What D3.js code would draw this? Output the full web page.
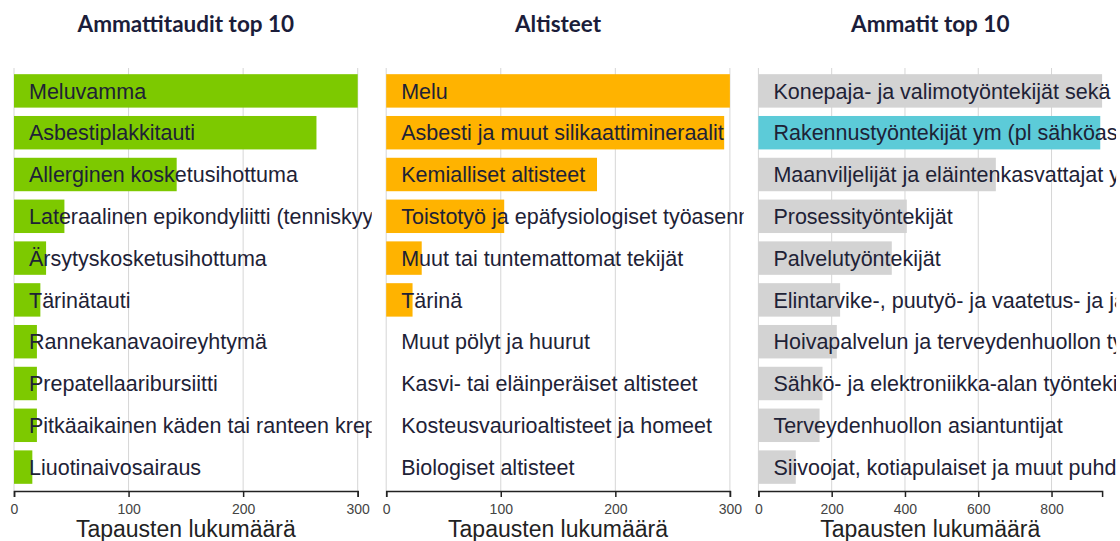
<!DOCTYPE html>
<html>
<head>
<meta charset="utf-8">
<script src="https://cdn.jsdelivr.net/npm/d3@7"></script>
<style>
  body { margin: 0; background: #fff; }
  svg { display: block; }
</style>
</head>
<body>
<svg width="1120" height="541"></svg>
<script>
// panel titles
var titles = ["Ammattitaudit top 10", "Altisteet", "Ammatit top 10"];

// Ammattitaudit
var diseases = [
  "Meluvamma",
  "Asbestiplakkitauti",
  "Allerginen kosketusihottuma",
  "Lateraalinen epikondyliitti (tenniskyynärpää)",
  "Ärsytyskosketusihottuma",
  "Tärinätauti",
  "Rannekanavaoireyhtymä",
  "Prepatellaaribursiitti",
  "Pitkäaikainen käden tai ranteen krepitoiva jännetupentulehdus",
  "Liuotinaivosairaus"
];
var diseaseCounts = [300, 264, 142, 44, 28, 23, 20, 20, 20, 16];

// Altisteet
var exposures = [
  "Melu",
  "Asbesti ja muut silikaattimineraalit",
  "Kemialliset altisteet",
  "Toistotyö ja epäfysiologiset työasennot",
  "Muut tai tuntemattomat tekijät",
  "Tärinä",
  "Muut pölyt ja huurut",
  "Kasvi- tai eläinperäiset altisteet",
  "Kosteusvaurioaltisteet ja homeet",
  "Biologiset altisteet"
];
var exposureCounts = [300, 295, 184, 103, 31, 23, 0, 0, 0, 0];

// Ammatit
var occupations = [
  "Konepaja- ja valimotyöntekijät sekä asentajat ja korjaajat",
  "Rakennustyöntekijät ym (pl sähköasentajat)",
  "Maanviljelijät ja eläintenkasvattajat yms.",
  "Prosessityöntekijät",
  "Palvelutyöntekijät",
  "Elintarvike-, puutyö- ja vaatetus- ja jalkinetyöntekijät",
  "Hoivapalvelun ja terveydenhuollon työntekijät",
  "Sähkö- ja elektroniikka-alan työntekijät",
  "Terveydenhuollon asiantuntijat",
  "Siivoojat, kotiapulaiset ja muut puhdistustyöntekijät"
];
var occupationCounts = [938, 933, 648, 405, 364, 223, 214, 175, 167, 102];

var ticksSmall = [0, 100, 200, 300];
var ticksLarge = [0, 200, 400, 600, 800];
var axisTitle = "Tapausten lukumäärä";

var panels = [
  { title: titles[0], labels: diseases, values: diseaseCounts, ticks: ticksSmall, color: "#7dc900" },
  { title: titles[1], labels: exposures, values: exposureCounts, ticks: ticksSmall, color: "#ffb300" },
  { title: titles[2], labels: occupations, values: occupationCounts, ticks: ticksLarge, color: "#d3d3d3", highlight: 1, highlightColor: "#5ccbd8" }
];

var svg = d3.select("svg");
var panelW = 343.7, panelStep = 372.2, left0 = 14;
var plotTop = 68, axisY = 491;
var labelFont = "'Liberation Sans', Arial, sans-serif";

var y = d3.scaleBand()
  .domain(d3.range(10))
  .range([70, 488])
  .paddingInner(0.2)
  .paddingOuter(0.1);

panels.forEach(function(p, i) {
  var x0 = left0 + i * panelStep;
  var g = svg.append("g").attr("transform", "translate(" + x0 + ",0)");

  var x = d3.scaleLinear()
    .domain([0, d3.max(p.values)])
    .range([0, panelW]);

  // title
  g.append("text")
    .attr("x", panelW / 2)
    .attr("y", 32)
    .attr("text-anchor", "middle")
    .style("font-family", "Lato, 'Open Sans', sans-serif")
    .style("font-weight", "bold")
    .style("font-size", "22.5px")
    .attr("fill", "#1b1d3a")
    .text(p.title);

  // grid lines
  g.selectAll(".grid")
    .data(p.ticks)
    .enter()
    .append("line")
    .attr("x1", function(d) { return x(d); })
    .attr("x2", function(d) { return x(d); })
    .attr("y1", plotTop)
    .attr("y2", axisY)
    .attr("stroke", "#d6d6d6")
    .attr("stroke-width", 1);

  // bars
  g.selectAll(".bar")
    .data(p.values)
    .enter()
    .append("rect")
    .attr("x", x(0))
    .attr("y", function(d, j) { return y(j); })
    .attr("width", function(d) { return x(d) - x(0); })
    .attr("height", y.bandwidth())
    .attr("fill", function(d, j) { return j === p.highlight ? p.highlightColor : p.color; });

  // labels, clipped to the panel
  var clipId = "clip" + i;
  g.append("clipPath").attr("id", clipId)
    .append("rect")
    .attr("x", 0).attr("y", 0)
    .attr("width", panelW + 14).attr("height", 541);

  g.append("g")
    .attr("clip-path", "url(#" + clipId + ")")
    .selectAll("text")
    .data(p.labels)
    .enter()
    .append("text")
    .attr("x", 15)
    .attr("y", function(d, j) { return y(j) + y.bandwidth() / 2; })
    .attr("dy", "0.36em")
    .style("font-family", labelFont)
    .style("font-size", "21.5px")
    .attr("fill", "#1e2236")
    .text(function(d) { return d; });

  // x axis
  var ax = g.append("g")
    .attr("transform", "translate(0," + axisY + ")")
    .call(d3.axisBottom(x).tickValues(p.ticks).tickSize(6).tickSizeOuter(6).tickPadding(7));
  ax.select(".domain").attr("stroke", "#222").attr("stroke-width", 1.5);
  ax.selectAll(".tick line").attr("stroke", "#222").attr("stroke-width", 1.5);
  ax.selectAll(".tick text")
    .style("font-family", labelFont)
    .style("font-size", "14px")
    .attr("fill", "#444");

  g.append("text")
    .attr("x", panelW / 2)
    .attr("y", 537)
    .attr("text-anchor", "middle")
    .style("font-family", labelFont)
    .style("font-size", "23px")
    .attr("fill", "#222")
    .text(axisTitle);
});
</script>
</body>
</html>
